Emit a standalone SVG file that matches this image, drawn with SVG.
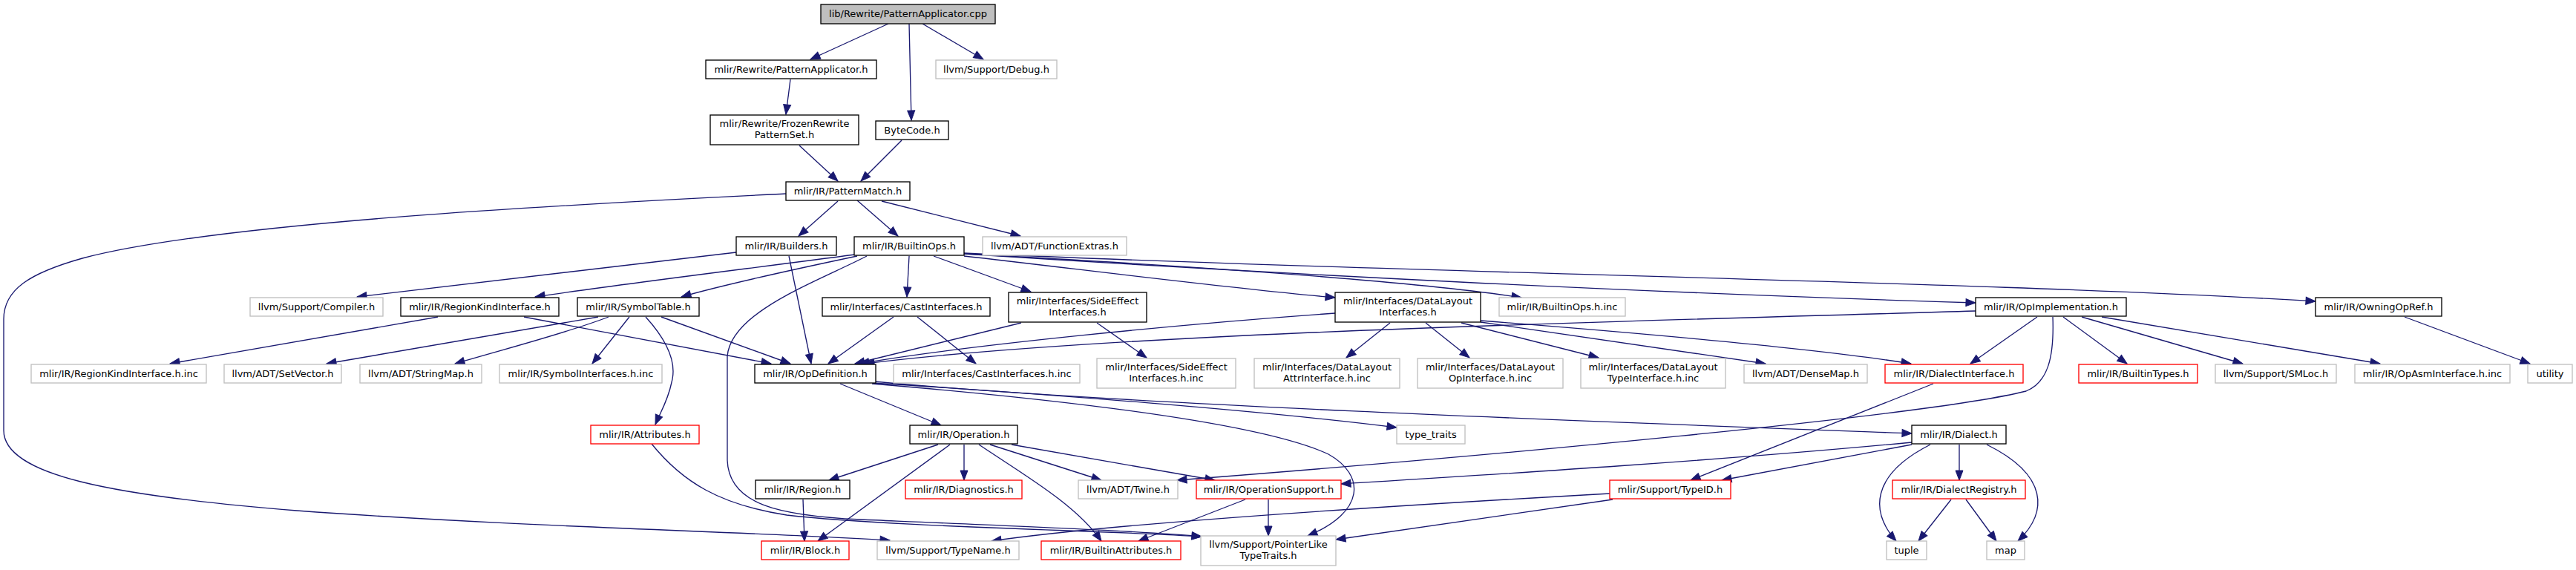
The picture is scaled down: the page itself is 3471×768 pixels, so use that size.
<svg xmlns="http://www.w3.org/2000/svg" width="3471" height="768" viewBox="0 0 3471 768">
<style>
.node rect{fill:#fff;stroke:#000;stroke-width:1.33}
.node.gray rect{stroke:#bfbfbf}
.node.red rect{stroke:#ff0000}
.node.root rect{fill:#bfbfbf}
.node text{font-family:"DejaVu Sans",sans-serif;font-size:13px;text-anchor:middle;fill:#000}
#edges path{fill:none;stroke:#191970;stroke-width:1.33;marker-end:url(#arr)}
</style>
<defs>
<marker id="arr" markerUnits="userSpaceOnUse" markerWidth="16" markerHeight="12" refX="13" refY="5" orient="auto" overflow="visible">
<path d="M0,0 L13,5 L0,10 Z" fill="#191970" stroke="#191970" stroke-width="1"/>
</marker>
</defs>
<rect width="3471" height="768" fill="#fff"/>
<g id="edges">
<path d="M1197,32 L1092,80"/>
<path d="M1225,32 C1226,80 1227,120 1228,162"/>
<path d="M1243,32 L1325,80"/>
<path d="M1065,107 L1059,154"/>
<path d="M1077,196 L1129,244"/>
<path d="M1215,189 L1160,244"/>
<path d="M1129,271 L1076,318"/>
<path d="M1155,270 L1210,318"/>
<path d="M1188,271 L1375,318"/>
<path d="M1059,261 C800,274 300,298 111,348 C40,368 5,390 5,430 L5,580 C5,640 150,668 400,688 C700,710 1000,716 1199,728"/>
<path d="M992,340 L481,400"/>
<path d="M1063,345 L1093,490"/>
<path d="M1152,343 C1000,363 850,381 721,400"/>
<path d="M1155,345 C1060,365 960,388 918,400"/>
<path d="M1225,345 L1222,400"/>
<path d="M1258,345 L1389,393"/>
<path d="M1299,345 C1450,362 1650,388 1799,401"/>
<path d="M1299,342 C1600,358 1900,378 2050,401"/>
<path d="M1299,342 C1700,368 2200,394 2662,408"/>
<path d="M1299,341 C1900,368 2700,380 3120,406"/>
<path d="M1168,345 C1100,380 985,420 980,480 L980,620 C982,680 1050,695 1160,700 C1350,708 1550,716 1619,723"/>
<path d="M878,598 C920,650 970,680 1060,694 C1200,710 1500,715 1619,723"/>
<path d="M590,427 L229,490"/>
<path d="M706,427 L1039,490"/>
<path d="M806,427 L440,490"/>
<path d="M820,427 C760,450 680,470 613,490"/>
<path d="M848,427 L798,490"/>
<path d="M870,427 C900,460 912,490 905,515 C900,540 890,555 883,572"/>
<path d="M891,427 L1065,490"/>
<path d="M1204,427 L1116,490"/>
<path d="M1236,427 L1315,490"/>
<path d="M1376,435 L1152,490"/>
<path d="M1478,435 L1545,482"/>
<path d="M1799,422 C1600,436 1300,465 1158,490"/>
<path d="M1873,435 L1814,482"/>
<path d="M1921,435 L1980,482"/>
<path d="M1969,435 L2154,482"/>
<path d="M1995,434 C2150,456 2300,478 2379,490"/>
<path d="M1995,432 C2200,448 2450,470 2575,490"/>
<path d="M2662,419 C2200,433 1500,448 1165,490"/>
<path d="M2745,427 L2655,490"/>
<path d="M2780,427 L2866,490"/>
<path d="M2805,427 L3022,490"/>
<path d="M2832,427 L3207,490"/>
<path d="M2766,427 C2768,480 2760,515 2730,527 C2600,560 2000,615 1586,647"/>
<path d="M3240,427 L3409,490"/>
<path d="M1132,517 L1268,573"/>
<path d="M1176,516 C1400,530 1700,553 1882,576"/>
<path d="M1178,514 C1500,545 2200,570 2576,584"/>
<path d="M1175,517 C1450,540 1700,570 1790,612 C1840,640 1840,690 1762,722"/>
<path d="M1264,599 L1117,647"/>
<path d="M1280,599 L1102,729"/>
<path d="M1299,599 L1299,647"/>
<path d="M1319,599 C1380,640 1450,680 1484,729"/>
<path d="M1334,599 L1484,647"/>
<path d="M1363,599 L1637,647"/>
<path d="M1082,673 L1084,729"/>
<path d="M1678,673 L1534,729"/>
<path d="M1709,673 L1709,722"/>
<path d="M2576,596 C2300,622 2000,640 1807,652"/>
<path d="M2576,599 L2320,647"/>
<path d="M2605,517 L2278,647"/>
<path d="M2169,665 C1900,680 1500,705 1336,729"/>
<path d="M2173,673 L1800,727"/>
<path d="M2601,599 C2520,640 2520,690 2555,729"/>
<path d="M2640,599 L2640,647"/>
<path d="M2677,599 C2760,640 2760,690 2719,729"/>
<path d="M2629,673 L2585,729"/>
<path d="M2649,673 L2690,729"/>
</g>
<g id="n0" class="node root"><rect x="1106" y="6" width="235" height="26"/><text x="1223.5" y="23">lib/Rewrite/PatternApplicator.cpp</text></g>
<g id="n1" class="node"><rect x="951" y="81" width="230" height="25"/><text x="1066" y="98">mlir/Rewrite/PatternApplicator.h</text></g>
<g id="n2" class="node"><rect x="957" y="155" width="200" height="40"/><text x="1057" y="171">mlir/Rewrite/FrozenRewrite</text><text x="1057" y="186">PatternSet.h</text></g>
<g id="n3" class="node"><rect x="1059" y="245" width="167" height="25"/><text x="1142.5" y="262">mlir/IR/PatternMatch.h</text></g>
<g id="n4" class="node"><rect x="1180" y="163" width="98" height="25"/><text x="1229" y="180">ByteCode.h</text></g>
<g id="n5" class="node gray"><rect x="1261" y="81" width="163" height="25"/><text x="1342.5" y="98">llvm/Support/Debug.h</text></g>
<g id="n6" class="node"><rect x="992" y="319" width="135" height="25"/><text x="1059.5" y="336">mlir/IR/Builders.h</text></g>
<g id="n7" class="node"><rect x="1151" y="319" width="148" height="25"/><text x="1225" y="336">mlir/IR/BuiltinOps.h</text></g>
<g id="n8" class="node gray"><rect x="1324" y="319" width="194" height="25"/><text x="1421" y="336">llvm/ADT/FunctionExtras.h</text></g>
<g id="n9" class="node gray"><rect x="337" y="401" width="179" height="25"/><text x="426.5" y="418">llvm/Support/Compiler.h</text></g>
<g id="n10" class="node"><rect x="540" y="401" width="213" height="25"/><text x="646.5" y="418">mlir/IR/RegionKindInterface.h</text></g>
<g id="n11" class="node"><rect x="778" y="401" width="164" height="25"/><text x="860" y="418">mlir/IR/SymbolTable.h</text></g>
<g id="n12" class="node"><rect x="1108" y="401" width="226" height="25"/><text x="1221" y="418">mlir/Interfaces/CastInterfaces.h</text></g>
<g id="n13" class="node"><rect x="1359" y="394" width="186" height="40"/><text x="1452" y="410">mlir/Interfaces/SideEffect</text><text x="1452" y="425">Interfaces.h</text></g>
<g id="n14" class="node"><rect x="1799" y="394" width="196" height="40"/><text x="1897" y="410">mlir/Interfaces/DataLayout</text><text x="1897" y="425">Interfaces.h</text></g>
<g id="n15" class="node gray"><rect x="2020" y="401" width="170" height="25"/><text x="2105" y="418">mlir/IR/BuiltinOps.h.inc</text></g>
<g id="n16" class="node"><rect x="2662" y="401" width="203" height="25"/><text x="2763.5" y="418">mlir/IR/OpImplementation.h</text></g>
<g id="n17" class="node"><rect x="3120" y="401" width="170" height="25"/><text x="3205" y="418">mlir/IR/OwningOpRef.h</text></g>
<g id="n18" class="node gray"><rect x="42" y="491" width="236" height="25"/><text x="160" y="508">mlir/IR/RegionKindInterface.h.inc</text></g>
<g id="n19" class="node gray"><rect x="302" y="491" width="158" height="25"/><text x="381" y="508">llvm/ADT/SetVector.h</text></g>
<g id="n20" class="node gray"><rect x="485" y="491" width="164" height="25"/><text x="567" y="508">llvm/ADT/StringMap.h</text></g>
<g id="n21" class="node gray"><rect x="673" y="491" width="219" height="25"/><text x="782.5" y="508">mlir/IR/SymbolInterfaces.h.inc</text></g>
<g id="n22" class="node"><rect x="1017" y="491" width="163" height="25"/><text x="1098.5" y="508">mlir/IR/OpDefinition.h</text></g>
<g id="n23" class="node gray"><rect x="1204" y="491" width="251" height="25"/><text x="1329.5" y="508">mlir/Interfaces/CastInterfaces.h.inc</text></g>
<g id="n24" class="node gray"><rect x="1478" y="483" width="187" height="40"/><text x="1571.5" y="499">mlir/Interfaces/SideEffect</text><text x="1571.5" y="514">Interfaces.h.inc</text></g>
<g id="n25" class="node gray"><rect x="1690" y="483" width="196" height="40"/><text x="1788" y="499">mlir/Interfaces/DataLayout</text><text x="1788" y="514">AttrInterface.h.inc</text></g>
<g id="n26" class="node gray"><rect x="1910" y="483" width="196" height="40"/><text x="2008" y="499">mlir/Interfaces/DataLayout</text><text x="2008" y="514">OpInterface.h.inc</text></g>
<g id="n27" class="node gray"><rect x="2130" y="483" width="195" height="40"/><text x="2227.5" y="499">mlir/Interfaces/DataLayout</text><text x="2227.5" y="514">TypeInterface.h.inc</text></g>
<g id="n28" class="node gray"><rect x="2350" y="491" width="166" height="25"/><text x="2433" y="508">llvm/ADT/DenseMap.h</text></g>
<g id="n29" class="node red"><rect x="2540" y="491" width="186" height="25"/><text x="2633" y="508">mlir/IR/DialectInterface.h</text></g>
<g id="n30" class="node red"><rect x="2801" y="491" width="160" height="25"/><text x="2881" y="508">mlir/IR/BuiltinTypes.h</text></g>
<g id="n31" class="node gray"><rect x="2985" y="491" width="163" height="25"/><text x="3066.5" y="508">llvm/Support/SMLoc.h</text></g>
<g id="n32" class="node gray"><rect x="3173" y="491" width="209" height="25"/><text x="3277.5" y="508">mlir/IR/OpAsmInterface.h.inc</text></g>
<g id="n33" class="node gray"><rect x="3406" y="491" width="60" height="25"/><text x="3436" y="508">utility</text></g>
<g id="n34" class="node red"><rect x="796" y="573" width="146" height="25"/><text x="869" y="590">mlir/IR/Attributes.h</text></g>
<g id="n35" class="node"><rect x="1226" y="573" width="145" height="25"/><text x="1298.5" y="590">mlir/IR/Operation.h</text></g>
<g id="n36" class="node gray"><rect x="1882" y="573" width="92" height="25"/><text x="1928" y="590">type_traits</text></g>
<g id="n37" class="node"><rect x="2576" y="573" width="127" height="25"/><text x="2639.5" y="590">mlir/IR/Dialect.h</text></g>
<g id="n38" class="node"><rect x="1018" y="647" width="127" height="25"/><text x="1081.5" y="664">mlir/IR/Region.h</text></g>
<g id="n39" class="node red"><rect x="1220" y="647" width="157" height="25"/><text x="1298.5" y="664">mlir/IR/Diagnostics.h</text></g>
<g id="n40" class="node gray"><rect x="1453" y="647" width="134" height="25"/><text x="1520" y="664">llvm/ADT/Twine.h</text></g>
<g id="n41" class="node red"><rect x="1612" y="647" width="195" height="25"/><text x="1709.5" y="664">mlir/IR/OperationSupport.h</text></g>
<g id="n42" class="node red"><rect x="2169" y="647" width="163" height="25"/><text x="2250.5" y="664">mlir/Support/TypeID.h</text></g>
<g id="n43" class="node red"><rect x="2550" y="647" width="179" height="25"/><text x="2639.5" y="664">mlir/IR/DialectRegistry.h</text></g>
<g id="n44" class="node red"><rect x="1026" y="729" width="118" height="25"/><text x="1085" y="746">mlir/IR/Block.h</text></g>
<g id="n45" class="node gray"><rect x="1182" y="729" width="191" height="25"/><text x="1277.5" y="746">llvm/Support/TypeName.h</text></g>
<g id="n46" class="node red"><rect x="1403" y="729" width="188" height="25"/><text x="1497" y="746">mlir/IR/BuiltinAttributes.h</text></g>
<g id="n47" class="node gray"><rect x="1618" y="722" width="182" height="40"/><text x="1709" y="738">llvm/Support/PointerLike</text><text x="1709" y="753">TypeTraits.h</text></g>
<g id="n48" class="node gray"><rect x="2542" y="729" width="54" height="25"/><text x="2569" y="746">tuple</text></g>
<g id="n49" class="node gray"><rect x="2677" y="729" width="51" height="25"/><text x="2702.5" y="746">map</text></g>
</svg>
